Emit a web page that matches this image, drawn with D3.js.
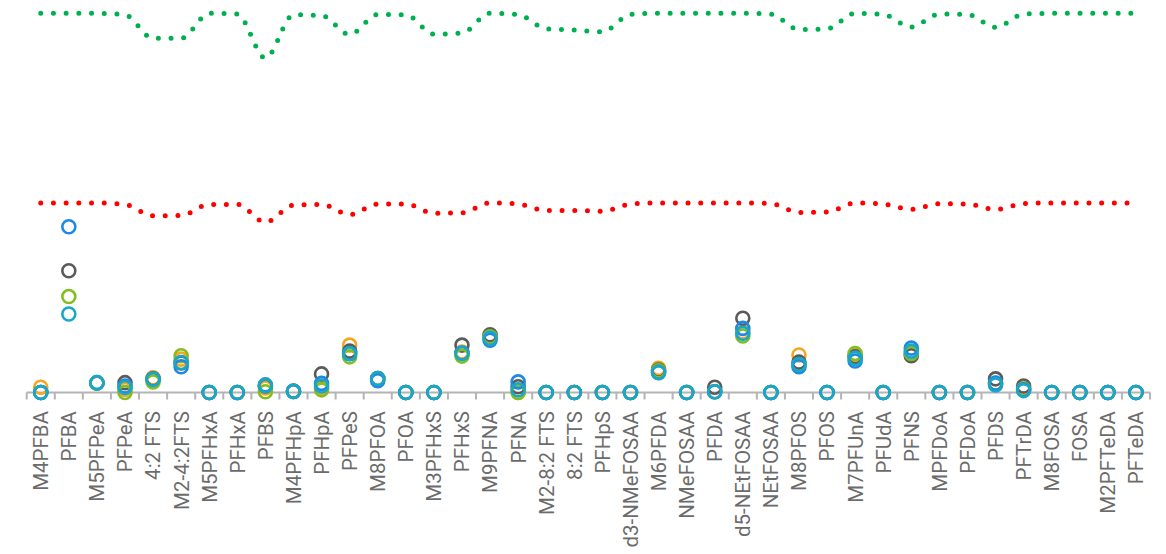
<!DOCTYPE html>
<html>
<head>
<meta charset="utf-8">
<script src="https://cdn.jsdelivr.net/npm/d3@7"></script>
<style>
  html, body { margin: 0; padding: 0; background: #ffffff; }
  svg { display: block; }
  .cat-label { font-family: Roboto, "Noto Sans", sans-serif; font-size: 20.5px; fill: #6b6b6b; }
</style>
</head>
<body>
<svg id="chart" width="1166" height="554"></svg>
<script>
// Analytes along the x axis
const categories = [
  "M4PFBA", "PFBA", "M5PFPeA", "PFPeA", "4:2 FTS", "M2-4:2FTS", "M5PFHxA", "PFHxA",
  "PFBS", "M4PFHpA", "PFHpA", "PFPeS", "M8PFOA", "PFOA", "M3PFHxS", "PFHxS",
  "M9PFNA", "PFNA", "M2-8:2 FTS", "8:2 FTS", "PFHpS", "d3-NMeFOSAA", "M6PFDA", "NMeFOSAA",
  "PFDA", "d5-NEtFOSAA", "NEtFOSAA", "M8PFOS", "PFOS", "M7PFUnA", "PFUdA", "PFNS",
  "MPFDoA", "PFDoA", "PFDS", "PFTrDA", "M8FOSA", "FOSA", "M2PFTeDA", "PFTeDA"
];

// Upper (green) and lower (red) limit curves
const upperLimit = [
  100, 100, 100, 99.6, 93.4, 93.4, 100, 99.8,
  88.2, 99.6, 99.4, 94.4, 99.7, 99.6, 94.5, 94.8,
  100, 99.7, 95.9, 95.6, 95.1, 99.7, 100, 100,
  100, 100, 99.8, 95.7, 95.9, 100, 99.7, 96.4,
  99.8, 99.7, 96.3, 99.8, 100, 100, 100, 100
];
const lowerLimit = [
  50, 50, 50, 49.6, 46.6, 46.7, 49.6, 49.6,
  44.9, 49.4, 49.6, 46.9, 49.7, 49.7, 47.3, 47.4,
  50, 49.7, 48.0, 48.0, 47.8, 49.7, 50, 50,
  50, 50, 49.8, 47.5, 47.6, 50, 49.7, 48.3,
  49.8, 49.7, 48.3, 49.8, 50, 50, 50, 50
];

// Sample series (open circles)
const seriesA = [
  1.4, null, 2.5, 0.8, 3.9, 8.8, 0, 0,
  1.2, 0.3, 1.2, 12.5, 3.7, 0, 0, 10.7,
  14.9, 0, 0, 0, 0, 0, 6.4, 0,
  0.2, 16.0, 0, 9.9, 0, 9.8, 0, 10.1,
  0, 0, 2.2, 1.1, 0, 0, 0, 0
];
const seriesB = [
  0, 32.1, 2.5, 2.6, 3.6, 7.8, 0, 0,
  1.7, 0.3, 4.9, 10.9, 3.7, 0, 0, 12.5,
  15.2, 1.5, 0, 0, 0, 0, 5.9, 0,
  1.4, 19.6, 0, 8.0, 0, 9.4, 0, 9.7,
  0, 0, 3.6, 1.7, 0, 0, 0, 0
];
const seriesC = [
  0, 25.3, 2.5, 0, 2.8, 9.7, 0, 0,
  0.2, 0.4, 0.7, 9.4, 3.6, 0, 0, 9.6,
  14.7, 0, 0, 0, 0, 0, 5.7, 0,
  0.2, 14.9, 0, 7.3, 0, 10.3, 0, 10.3,
  0, 0, 2.4, 0.9, 0, 0, 0, 0
];
const seriesD = [
  0, 43.7, 2.6, 1.7, 3.5, 6.8, 0, 0,
  2.0, 0.3, 2.4, 10.2, 3.1, 0, 0, 10.4,
  13.8, 2.8, 0, 0, 0, 0, 5.3, 0,
  0.2, 16.9, 0, 6.8, 0, 8.3, 0, 11.7,
  0, 0, 2.5, 0.7, 0, 0, 0, 0
];
const seriesE = [
  0, 20.7, 2.6, 1.3, 3.5, 7.9, 0, 0,
  1.8, 0.3, 1.7, 10.3, 3.7, 0, 0, 10.3,
  14.3, 0.7, 0, 0, 0, 0, 5.2, 0,
  0.2, 15.6, 0, 7.4, 0, 9.0, 0, 10.9,
  0, 0, 2.0, 0.5, 0, 0, 0, 0
];

const seriesList = [
  { values: seriesA, color: "#f5a623" },
  { values: seriesB, color: "#5b5b5b" },
  { values: seriesC, color: "#84bd1f" },
  { values: seriesD, color: "#1e88e5" },
  { values: seriesE, color: "#17a8c9" }
];

const svg = d3.select("#chart");

const x = d3.scaleBand()
  .domain(categories)
  .range([26.7, 1150])
  .paddingInner(0)
  .paddingOuter(0);

const y = d3.scaleLinear()
  .domain([0, 100])
  .range([392.5, 13.3]);

const cx = d => x(d) + x.bandwidth() / 2;

// Category axis: baseline with ticks at band boundaries
const axisG = svg.append("g");
axisG.append("line")
  .attr("x1", x.range()[0]).attr("x2", x.range()[1])
  .attr("y1", y(0)).attr("y2", y(0))
  .attr("stroke", "#b4b4b4").attr("stroke-width", 2);

const boundaries = categories.map(c => x(c)).concat([x.range()[1]]);
axisG.selectAll("line.tick")
  .data(boundaries)
  .join("line")
  .attr("class", "tick")
  .attr("x1", d => d).attr("x2", d => d)
  .attr("y1", y(0)).attr("y2", y(0) + 7)
  .attr("stroke", "#b4b4b4").attr("stroke-width", 2);

axisG.selectAll("text.cat-label")
  .data(categories)
  .join("text")
  .attr("class", "cat-label")
  .attr("text-anchor", "end")
  .attr("dy", "0.36em")
  .attr("transform", d => `translate(${cx(d)},${y(0) + 18.5}) rotate(-90)`)
  .text(d => d);

// Dotted limit curves
const limitLine = d3.line()
  .x((d, i) => cx(categories[i]))
  .y(d => y(d))
  .curve(d3.curveMonotoneX);

[[upperLimit, "#00b050"], [lowerLimit, "#ff0000"]].forEach(([vals, col]) => {
  svg.append("path")
    .attr("d", limitLine(vals))
    .attr("fill", "none")
    .attr("stroke", col)
    .attr("stroke-width", 5)
    .attr("stroke-linecap", "round")
    .attr("stroke-dasharray", "0 12.7");
});

// Open circle markers for each series
seriesList.forEach(s => {
  svg.append("g")
    .selectAll("circle")
    .data(categories.map((c, i) => ({ c, v: s.values[i] })).filter(d => d.v !== null))
    .join("circle")
    .attr("cx", d => cx(d.c))
    .attr("cy", d => y(d.v))
    .attr("r", 6.5)
    .attr("fill", "none")
    .attr("stroke", s.color)
    .attr("stroke-width", 2.6);
});
</script>
</body>
</html>
